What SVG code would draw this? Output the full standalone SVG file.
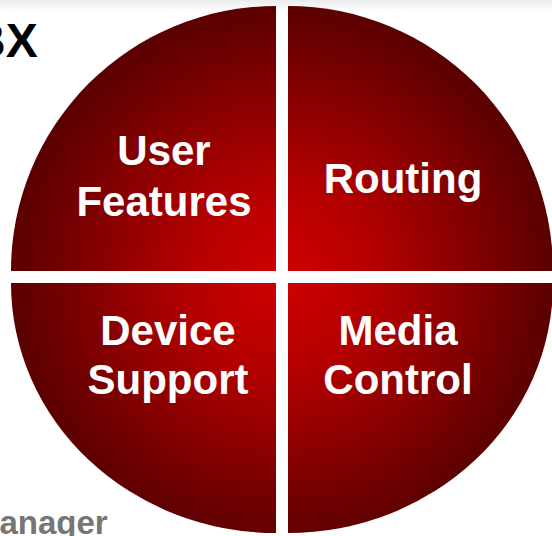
<svg xmlns="http://www.w3.org/2000/svg" width="552" height="536" viewBox="0 0 552 536">
  <defs>
    <radialGradient id="pieFill" gradientUnits="userSpaceOnUse" cx="282" cy="277" r="272">
      <stop offset="0" stop-color="#d00000"/>
      <stop offset="0.35" stop-color="#b40000"/>
      <stop offset="1" stop-color="#5a0000"/>
    </radialGradient>
    <linearGradient id="topBand" x1="0" y1="0" x2="0" y2="1">
      <stop offset="0" stop-color="#ececec"/>
      <stop offset="1" stop-color="#ffffff"/>
    </linearGradient>
  </defs>
  <style>
    .slice { fill: url(#pieFill); }
    .label { font-family: "Liberation Sans", Arial, sans-serif; font-weight: bold; font-size: 42px; fill: #ffffff; text-anchor: middle; }
    .title { font-family: "Liberation Sans", Arial, sans-serif; font-weight: bold; fill: #000000; }
    .caption { font-family: "Liberation Sans", Arial, sans-serif; font-weight: bold; fill: #767676; }
  </style>

  <rect x="0" y="0" width="552" height="536" fill="#ffffff"/>
  <rect x="0" y="0" width="552" height="12" fill="url(#topBand)"/>

  <!-- heading and footer text running in from the left edge -->
  <text class="title" x="-29" y="57" font-size="48">BX</text>
  <text class="caption" x="-28" y="534" font-size="33">Manager</text>

  <g id="user-features">
    <path class="slice" d="M276,271 L11,271 A265,265 0 0 1 276,6 Z"/>
    <text class="label" x="164" y="165">User</text>
    <text class="label" x="164" y="216">Features</text>
  </g>

  <g id="routing">
    <path class="slice" d="M288,271 L288,6 A265,265 0 0 1 553,271 Z"/>
    <text class="label" x="403" y="193">Routing</text>
  </g>

  <g id="device-support">
    <path class="slice" d="M276,283 L276,533 A265,250 0 0 1 11,283 Z"/>
    <text class="label" x="168" y="345">Device</text>
    <text class="label" x="168" y="394">Support</text>
  </g>

  <g id="media-control">
    <path class="slice" d="M288,283 L553,283 A265,250 0 0 1 288,533 Z"/>
    <text class="label" x="398" y="345">Media</text>
    <text class="label" x="398" y="394">Control</text>
  </g>

  <g id="connectors"/>
</svg>
